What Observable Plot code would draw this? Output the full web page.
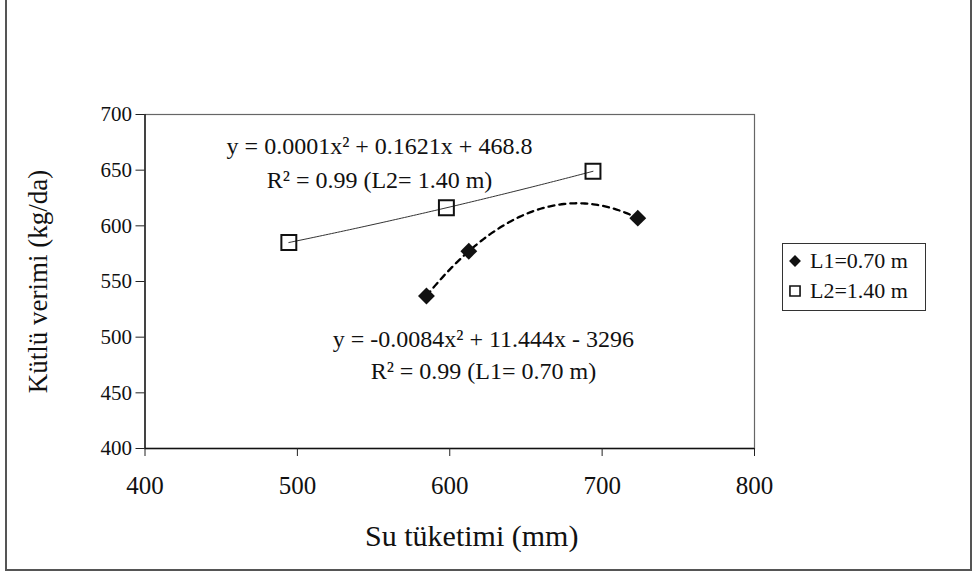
<!DOCTYPE html>
<html><head><meta charset="utf-8">
<script src="https://cdn.jsdelivr.net/npm/d3@7"></script>
<script src="https://cdn.jsdelivr.net/npm/@observablehq/plot@0.6"></script>
<style>
body{margin:0;background:#fff;}
#wrap{position:relative;width:972px;height:574px;overflow:hidden;font-family:"Liberation Serif",serif;}
#frame{position:absolute;left:5px;top:-10px;width:967px;height:581px;border:2px solid #555;box-sizing:border-box;}
#legend{position:absolute;left:782px;top:243px;}
</style></head><body><div id="wrap"><div id="frame"></div><div id="chart"></div><div id="legend"></div></div>
<script>
// ---- data ----
const seriesNames = ["L1=0.70 m", "L2=1.40 m"];
const l1X = [584.7, 612.5, 723.4];
const l1Y = [537.0, 577.2, 606.9];
const l2X = [494.4, 597.8, 694.0];
const l2Y = [585.0, 616.2, 649.0];
const xTicks = [400, 500, 600, 700, 800];
const yTicks = [400, 450, 500, 550, 600, 650, 700];
const l2Eq = ["y = 0.0001x² + 0.1621x + 468.8", "R² = 0.99 (L2= 1.40 m)"];
const l1Eq = ["y = -0.0084x² + 11.444x - 3296", "R² = 0.99 (L1= 0.70 m)"];
const xTitle = "Su tüketimi (mm)";
const yTitle = "Kütlü verimi (kg/da)";

// ---- build tables ----
const l1 = l1X.map((x, i) => ({x, y: l1Y[i]}));
const l2 = l2X.map((x, i) => ({x, y: l2Y[i]}));

// least-squares quadratic trendline (the chart's polynomial trendline)
function quadFit(pts) {
  let S = [0,0,0,0,0], T = [0,0,0];
  for (const p of pts) {
    for (let k = 0; k < 5; k++) S[k] += Math.pow(p.x, k);
    for (let k = 0; k < 3; k++) T[k] += p.y * Math.pow(p.x, k);
  }
  const A = [[S[0],S[1],S[2],T[0]],[S[1],S[2],S[3],T[1]],[S[2],S[3],S[4],T[2]]];
  for (let i = 0; i < 3; i++) {
    let m = i; for (let r = i+1; r < 3; r++) if (Math.abs(A[r][i]) > Math.abs(A[m][i])) m = r;
    [A[i], A[m]] = [A[m], A[i]];
    for (let r = 0; r < 3; r++) if (r !== i) {
      const f = A[r][i] / A[i][i];
      for (let c = i; c < 4; c++) A[r][c] -= f * A[i][c];
    }
  }
  const c = [A[0][3]/A[0][0], A[1][3]/A[1][1], A[2][3]/A[2][2]];
  return x => c[0] + c[1]*x + c[2]*x*x;
}
function trend(pts) {
  const f = quadFit(pts);
  const [x0, x1] = d3.extent(pts, d => d.x);
  return d3.range(0, 101).map(i => { const x = x0 + (x1 - x0) * i / 100; return {x, y: f(x)}; });
}

const chart = Plot.plot({
  width: 972, height: 574,
  marginLeft: 144.5, marginRight: 218, marginTop: 114, marginBottom: 126,
  style: {fontFamily: "Liberation Serif", color: "#111", background: "transparent"},
  x: {domain: [400, 800]},
  y: {domain: [400, 700]},
  marks: [
    Plot.frame({stroke: "#666", strokeWidth: 1.2}),
    Plot.ruleY([400], {stroke: "#111", strokeWidth: 1.3}),
    Plot.ruleX([400], {stroke: "#111", strokeWidth: 1.3}),
    Plot.axisX({ticks: xTicks, tickSize: 8, tickPadding: 20, fontSize: 25, label: null, stroke: "#222"}),
    Plot.axisY({ticks: yTicks, tickSize: 9, tickPadding: 4, fontSize: 21, label: null, stroke: "#222"}),
    Plot.text([yTitle], {frameAnchor: "left", dx: -107, rotate: -90, textAnchor: "middle", lineAnchor: "middle", fontSize: 27, fill: "#111"}),
    Plot.text([xTitle], {frameAnchor: "bottom", dx: 22, dy: 88, textAnchor: "middle", lineAnchor: "middle", fontSize: 30, fill: "#111"}),
    Plot.line(trend(l2), {x: "x", y: "y", stroke: "#333", strokeWidth: 1}),
    Plot.line(trend(l1), {x: "x", y: "y", stroke: "#000", strokeWidth: 2.3, strokeDasharray: "6,5"}),
    Plot.dot(l2, {x: "x", y: "y", symbol: "square2", r: 9.5, stroke: "#111", strokeWidth: 2, fill: "none"}),
    Plot.dot(l1, {x: "x", y: "y", symbol: "diamond2", r: 7.6, fill: "#111", stroke: "none"}),
    Plot.text(l2Eq, {x: 553.9, y: (d, i) => [664.7, 634.2][i], textAnchor: "middle", lineAnchor: "bottom", fontSize: 24, fill: "#111"}),
    Plot.text(l1Eq, {x: 622.1, y: (d, i) => [490.9, 462.6][i], textAnchor: "middle", lineAnchor: "bottom", fontSize: 24, fill: "#111"})
  ]
});
document.getElementById("chart").appendChild(chart);

// legend
const lg = d3.select("#legend").append("svg").attr("width", 144).attr("height", 68)
  .style("font-family", "Liberation Serif");
lg.append("rect").attr("x", 0.5).attr("y", 0.5).attr("width", 143).attr("height", 67)
  .attr("fill", "#fff").attr("stroke", "#333");
const symDiamond = d3.symbol(d3.symbolDiamond2, 90)();
const symSquare = d3.symbol(d3.symbolSquare2, 130)();
seriesNames.forEach((name, i) => {
  const cy = 18 + i * 30;
  const g = lg.append("g").attr("transform", `translate(13,${cy})`);
  if (i === 0) g.append("path").attr("d", symDiamond).attr("fill", "#111");
  else g.append("path").attr("d", symSquare).attr("fill", "none").attr("stroke", "#111").attr("stroke-width", 1.6);
  lg.append("text").attr("x", 28).attr("y", cy + 7).attr("font-size", 22).attr("fill", "#111").text(name);
});
</script>
</body></html>
